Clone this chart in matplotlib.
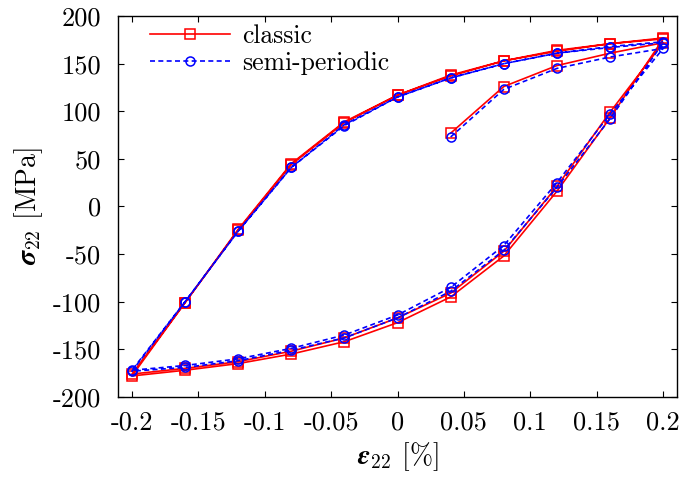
import numpy as np
import matplotlib
matplotlib.use("Agg")
import matplotlib.pyplot as plt

plt.rcParams['font.family'] = ['cmr10', 'DejaVu Serif']
plt.rcParams['mathtext.fontset'] = 'cm'
plt.rcParams['axes.unicode_minus'] = False
plt.rcParams['axes.formatter.use_mathtext'] = True

# strain steps [%]
strain_initial = [0.04, 0.08, 0.12, 0.16, 0.2]
strain_unload = [0.16, 0.12, 0.08, 0.04, 0.0, -0.04, -0.08, -0.12, -0.16, -0.2]
strain_reload = [-0.16, -0.12, -0.08, -0.04, 0.0, 0.04, 0.08, 0.12, 0.16, 0.2]

# classic stress [MPa]
classic_initial = [77, 126, 148, 161, 172]
classic_unload1 = [99, 21, -47, -91, -117, -138, -152, -163, -170, -176]
classic_reload1 = [-101, -24, 45, 89, 117, 137, 153, 163, 171, 176]
classic_unload2 = [93, 16, -52, -95, -122, -142, -155, -165, -172, -178]
classic_reload2 = [-101, -25, 44, 88, 117, 138, 153, 164, 171, 177]

# semi-periodic stress [MPa]
semi_initial = [73, 123, 145, 157, 166]
semi_unload1 = [97, 25, -41, -85, -114, -135, -149, -160, -167, -172]
semi_reload1 = [-100, -26, 41, 85, 115, 135, 150, 161, 167, 172]
semi_unload2 = [92, 20, -46, -89, -117, -138, -151, -162, -169, -173]
semi_reload2 = [-100, -26, 41, 86, 115, 135, 150, 161, 168, 173]

xticks = [-0.2, -0.15, -0.1, -0.05, 0, 0.05, 0.1, 0.15, 0.2]
xticklabels = ['-0.2', '-0.15', '-0.1', '-0.05', '0', '0.05', '0.1', '0.15', '0.2']
yticks = [-200, -150, -100, -50, 0, 50, 100, 150, 200]
yticklabels = ['-200', '-150', '-100', '-50', '0', '50', '100', '150', '200']

strain = strain_initial + strain_unload + strain_reload + strain_unload + strain_reload
classic = classic_initial + classic_unload1 + classic_reload1 + classic_unload2 + classic_reload2
semi = semi_initial + semi_unload1 + semi_reload1 + semi_unload2 + semi_reload2

fig = plt.figure(figsize=(6.86, 4.87), dpi=100)
ax = fig.add_subplot(111)
fig.subplots_adjust(left=0.172, right=0.987, bottom=0.185, top=0.967)

ax.plot(strain, classic, color='#ff0000', lw=1.2, marker='s', ms=6.5,
        mfc='none', mew=1.1, label='classic')
ax.plot(strain, semi, color='#0000ff', lw=1.2, ls=(0, (3, 2)), marker='o', ms=6.5,
        mfc='none', mew=1.1, label='semi-periodic')

ax.set_xlim(-0.2105, 0.2105)
ax.set_ylim(-200, 200)
ax.set_xticks(xticks)
ax.set_xticklabels(xticklabels)
ax.set_yticks(yticks)
ax.set_yticklabels(yticklabels)
ax.tick_params(direction='in', top=True, right=True, length=4.5, width=0.8,
               labelsize=19)
ax.tick_params(axis='y', pad=12)
ax.tick_params(axis='x', pad=10)
for s in ax.spines.values():
    s.set_linewidth(1.0)

ax.set_xlabel(r'$\mathbfit{\varepsilon}_{\mathbf{22}}$ [%]', fontsize=20, labelpad=4)
ax.set_ylabel(r'$\mathbfit{\sigma}_{\mathbf{22}}$ [MPa]', fontsize=20, labelpad=6)

ax.legend(loc='upper left', bbox_to_anchor=(0.016, 1.038), frameon=False,
          fontsize=18.5, handlelength=3.1, handletextpad=0.5, labelspacing=0.1)

plt.savefig("out.png", dpi=100)
